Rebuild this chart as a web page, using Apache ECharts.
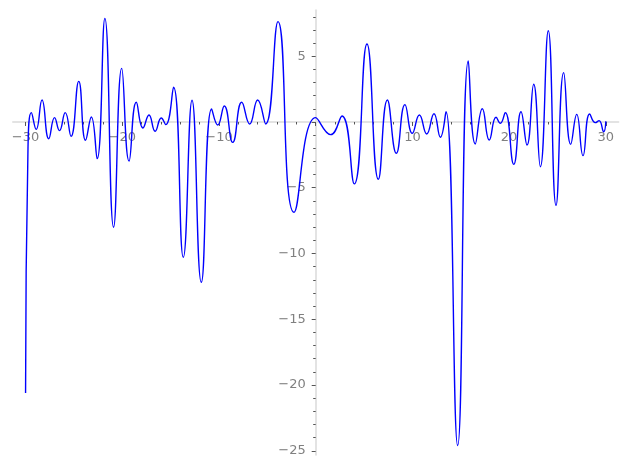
<!DOCTYPE html>
<html>
<head>
<meta charset="utf-8">
<script src="https://cdn.jsdelivr.net/npm/echarts@6/dist/echarts.min.js"></script>
<style>
  html, body { margin: 0; padding: 0; background: #fff; }
  #chart { width: 627px; height: 469px; }
</style>
</head>
<body>
<div id="chart"></div>
<script>
// values (local extrema of the curve)
const xs = [-30, -29.75, -29.4, -28.9, -28.3, -27.6, -27.0, -26.5, -25.9, -25.3,
  -24.5, -23.8, -23.2, -22.6, -21.8, -20.9, -20.06, -19.3, -18.55, -17.86,
  -17.24, -16.6, -15.97, -15.5, -14.7, -13.69, -12.79, -11.83, -10.76, -10.13,
  -9.45, -8.58, -7.65, -6.83, -6.0, -5.17, -3.9, -2.24, 0, 1.55,
  2.72, 3.99, 5.3, 6.48, 7.41, 8.34, 9.23, 9.99, 10.72, 11.48,
  12.23, 12.89, 13.47, 14.68, 15.78, 16.5, 17.23, 17.95, 18.65, 19.09,
  19.6, 20.48, 21.23, 21.85, 22.54, 23.23, 24.05, 24.85, 25.64, 26.37,
  26.99, 27.64, 28.33, 28.91, 29.3, 29.78, 30]
const ys = [-20.6, -2.0, 0.71, -0.56, 1.67, -1.27, 0.33, -0.66, 0.71, -1.09,
  3.09, -1.39, 0.38, -2.79, 7.88, -8.0, 4.08, -2.97, 1.5, -0.46,
  0.53, -0.71, 0.30, -0.2, 2.64, -10.29, 1.65, -12.19, 0.99, -0.23,
  1.22, -1.55, 1.5, -0.15, 1.67, -0.15, 7.63, -6.87, 0.33, -0.96,
  0.46, -4.71, 5.93, -4.36, 1.67, -2.38, 1.32, -0.86, 0.53, -0.91,
  0.63, -1.16, 0.78, -24.6, 4.64, -1.67, 1.01, -1.37, 0.36, -0.1,
  0.71, -3.22, 0.78, -1.75, 2.87, -3.4, 6.94, -6.34, 3.75, -1.7,
  0.58, -2.56, 0.61, -0.05, 0.1, -0.74, 0.05]

const xTicks = [-30, -20, -10, 0, 10, 20, 30]
const xLabels = [-30, -20, -10, 10, 20, 30]
const yTicks = [-25, -20, -15, -10, -5, 0, 5]
const yLabels = [-25, -20, -15, -10, -5, 5]

const xMin = -31.3, xMax = 31.3
const yMin = -25.3, yMax = 8.5

const points = xs.map((x, i) => [x, ys[i]])

function fmt(v) {
  return v < 0 ? '\u2212' + Math.abs(v) : String(v)
}

const W = 627, H = 469
const grid = { left: 13, right: 8.6, top: 10.2, bottom: 14.3 }
const gw = W - grid.left - grid.right
const gh = H - grid.top - grid.bottom
// move the axes so they cross at the origin, like the original plot
const xOffset = -(gh * (0 - yMin) / (yMax - yMin))
const yOffset = -(gw * (0 - xMin) / (xMax - xMin))

const axisCommon = {
  type: 'value',
  splitLine: { show: false },
  axisLine: { show: true, onZero: false, lineStyle: { color: '#e3e3e3', width: 2 } },
  axisTick: { show: true, length: 4, lineStyle: { color: '#555', width: 1 } },
  minorTick: { show: true, splitNumber: 5, length: 2.5, lineStyle: { color: '#555', width: 1 } },
  axisLabel: { color: '#808080', fontSize: 13, fontFamily: 'DejaVu Sans', formatter: fmt }
}

const chart = echarts.init(document.getElementById('chart'))

chart.setOption({
  animation: false,
  grid: Object.assign({ containLabel: false, outerBoundsMode: 'none' }, grid),
  xAxis: Object.assign({}, axisCommon, {
    min: xMin,
    max: xMax,
    position: 'bottom',
    offset: xOffset,
    axisTick: Object.assign({}, axisCommon.axisTick, { customValues: xTicks }),
    axisLabel: Object.assign({}, axisCommon.axisLabel, { customValues: xLabels, margin: 9 })
  }),
  yAxis: Object.assign({}, axisCommon, {
    min: yMin,
    max: yMax,
    position: 'left',
    offset: yOffset,
    axisTick: Object.assign({}, axisCommon.axisTick, { customValues: yTicks }),
    axisLabel: Object.assign({}, axisCommon.axisLabel, { customValues: yLabels, margin: 10 })
  }),
  series: [
    {
      type: 'line',
      data: points,
      smooth: 0.5,
      symbol: 'none',
      lineStyle: { color: '#0000ff', width: 1.4 }
    }
  ]
})
</script>
</body>
</html>
